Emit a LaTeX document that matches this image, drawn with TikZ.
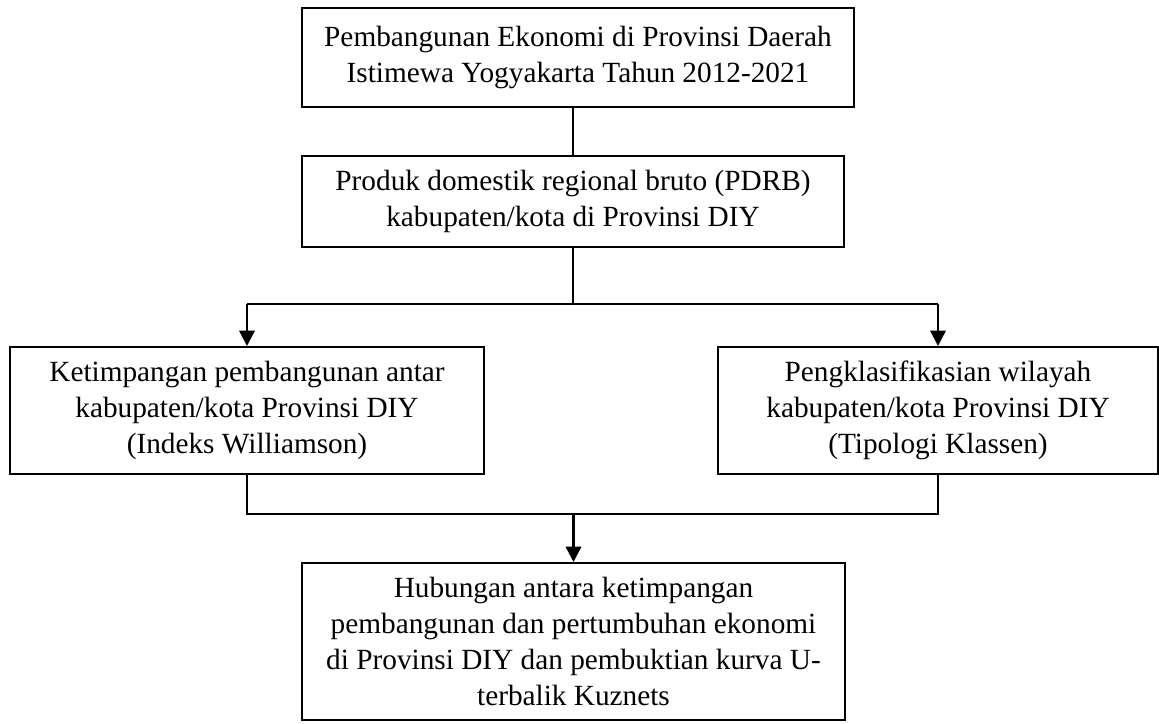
\documentclass[tikz,border=0pt]{standalone}
\usepackage{fontspec}
\setmainfont{Liberation Serif}
\usetikzlibrary{arrows.meta}

\begin{document}
\begin{tikzpicture}
	\tikzstyle{every node} = [draw, line width=0.85pt, align=center, inner sep=0pt, font=\fontsize{12.5}{15.3}\selectfont]
	\tikzstyle{arr} = [-{Triangle[width=0.23cm, length=0.23cm]}, line width=1pt]
	\useasboundingbox (0, 0) rectangle (17.385, -10.86);
	\node [minimum width=8.28cm, minimum height=1.485cm] (top) at (8.67, -0.8625) {Pembangunan Ekonomi di Provinsi Daerah\\Istimewa Yogyakarta Tahun 2012-2021};
	\node [minimum width=8.13cm, minimum height=1.365cm] (pdrb) at (8.595, -3.0225) {Produk domestik regional bruto (PDRB)\\kabupaten/kota di Provinsi DIY};
	\node [minimum width=7.11cm, minimum height=1.905cm] (will) at (3.705, -6.1575) {Ketimpangan pembangunan antar\\kabupaten/kota Provinsi DIY\\(Indeks Williamson)};
	\node [minimum width=6.6cm, minimum height=1.905cm] (kla) at (14.07, -6.1575) {Pengklasifikasian wilayah\\kabupaten/kota Provinsi DIY\\(Tipologi Klassen)};
	\node [minimum width=8.145cm, minimum height=2.355cm] (kuz) at (8.6025, -9.6225) {Hubungan antara ketimpangan\\pembangunan dan pertumbuhan ekonomi\\di Provinsi DIY dan pembuktian kurva U-\\terbalik Kuznets};
	\coordinate (s1) at (8.595, -4.56);
	\coordinate (s2) at (8.6025, -7.71);
	\draw [-, line width=0.5pt] (pdrb.north) -- (pdrb.north |- top.south);
	\draw [-, line width=0.5pt] (pdrb.south) -- (s1);
	\draw [-, line width=0.5pt] (will.north |- s1) -- (kla.north |- s1);
	\draw [arr] (will.north |- s1) -- (will.north);
	\draw [arr] (kla.north |- s1) -- (kla.north);
	\draw [-, line width=0.5pt] (will.south) -- (will.south |- s2) -- (kla.south |- s2) -- (kla.south);
	\draw [arr] (s2) -- (kuz.north);
\end{tikzpicture}
\end{document}
